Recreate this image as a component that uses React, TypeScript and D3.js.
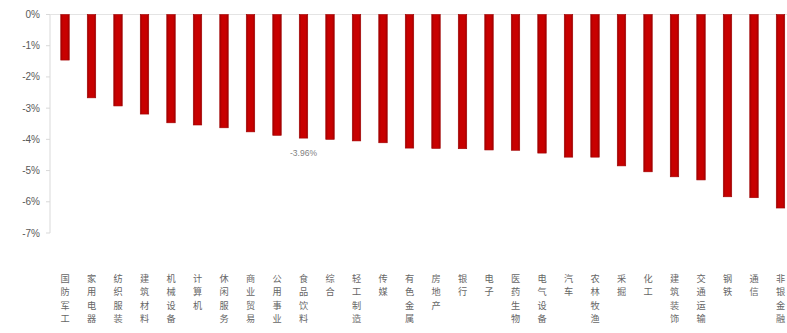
import React from "react";
import * as d3 from "d3";

const categories = ["国防军工","家用电器","纺织服装","建筑材料","机械设备","计算机","休闲服务","商业贸易","公用事业","食品饮料","综合","轻工制造","传媒","有色金属","房地产","银行","电子","医药生物","电气设备","汽车","农林牧渔","采掘","化工","建筑装饰","交通运输","钢铁","通信","非银金融"];
const values = [-1.46,-2.67,-2.93,-3.19,-3.47,-3.54,-3.63,-3.76,-3.87,-3.96,-4.0,-4.05,-4.11,-4.28,-4.29,-4.3,-4.34,-4.35,-4.44,-4.57,-4.57,-4.85,-5.04,-5.2,-5.3,-5.84,-5.87,-6.2];
const yTicks = [0,-1,-2,-3,-4,-5,-6,-7];
const annotatedIndex = 9;
const annotationText = "-3.96%";

export default function App() {
  const W = 787, H = 333;
  const x = d3.scaleBand<string>().domain(categories).range([51.75, 793.75]).paddingInner(0.68).paddingOuter(0.34);
  const y = d3.scaleLinear().domain([0, -7]).range([14.5, 233]);
  const bw = x.bandwidth();
  return (
    <svg width={W} height={H} style={{ position: "absolute", left: 0, top: 0, background: "#fff" }}>
      <defs>
        <linearGradient id="barg" x1="0" x2="1" y1="0" y2="0">
          <stop offset="0" stopColor="#9e0000" />
          <stop offset="0.25" stopColor="#c80000" />
          <stop offset="0.75" stopColor="#c80000" />
          <stop offset="1" stopColor="#9e0000" />
        </linearGradient>
      </defs>
      <line x1={50} x2={50} y1={y(0)} y2={y(-7)} stroke="#d9d9d9" strokeWidth={1} />
      <line x1={50} x2={W} y1={y(0)} y2={y(0)} stroke="#e4e4e4" strokeWidth={1} />
      {yTicks.map((t) => (
        <g key={t}>
          <line x1={46} x2={50} y1={y(t)} y2={y(t)} stroke="#d9d9d9" />
          <text x={40} y={y(t)} dy="0.35em" textAnchor="end" fontSize={10} fill="#595959" fontFamily="Liberation Sans, Arial, sans-serif">{`${t}%`}</text>
        </g>
      ))}
      {categories.map((c, i) => (
        <rect key={c} x={x(c)!} y={y(0)} width={bw} height={y(values[i]) - y(0)} fill="url(#barg)" stroke="#a00000" strokeWidth={0.6} />
      ))}
      <text x={x(categories[annotatedIndex])! + bw / 2} y={y(values[annotatedIndex]) + 18} textAnchor="middle" fontSize={8.5} fill="#7f7f7f" fontFamily="Liberation Sans, Arial, sans-serif">{annotationText}</text>
      {categories.map((c) => (
        <g key={c}>
          {c.split("").map((ch, j) => (
            <text key={j} x={x(c)! + bw / 2} y={278.5 + j * 13.4} dy="0.35em" textAnchor="middle" fontSize={9.2} fill="#666666" fontFamily="Noto Sans CJK SC, sans-serif">{ch}</text>
          ))}
        </g>
      ))}
    </svg>
  );
}
